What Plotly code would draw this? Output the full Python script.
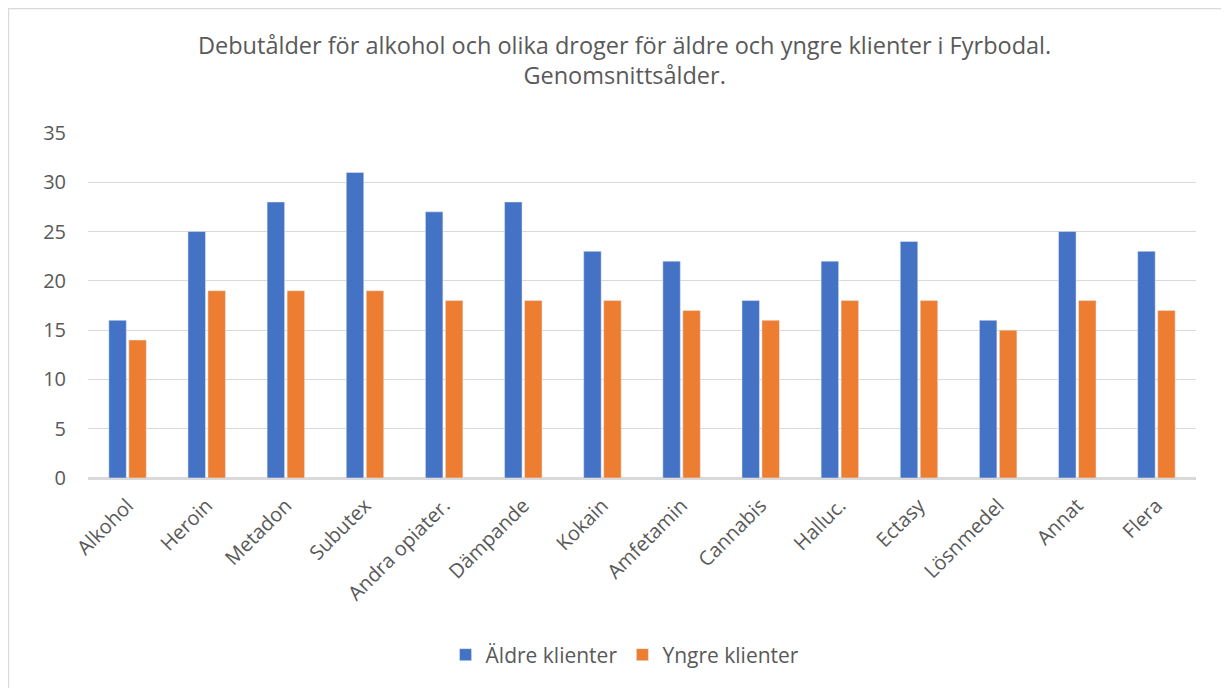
import plotly.graph_objects as go

kategorier = ["Alkohol", "Heroin", "Metadon", "Subutex", "Andra opiater.", "Dämpande",
              "Kokain", "Amfetamin", "Cannabis", "Halluc.", "Ectasy", "Lösnmedel", "Annat", "Flera"]
aldre = [16, 25, 28, 31, 27, 28, 23, 22, 18, 22, 24, 16, 25, 23]
yngre = [14, 19, 19, 19, 18, 18, 18, 17, 16, 18, 18, 15, 18, 17]

font = "Open Sans, Liberation Sans, sans-serif"
grey = "#595959"

fig = go.Figure()
fig.add_trace(go.Bar(x=kategorier, y=aldre, name="Äldre klienter", marker_color="#4472C4"))
fig.add_trace(go.Bar(x=kategorier, y=yngre, name="Yngre klienter", marker_color="#ED7D31"))

# sidan har 8px marginal i body, så figuren görs lite mindre
fig.update_layout(
    width=1221, height=680,
    margin=dict(l=80, r=33, t=125, b=210),
    paper_bgcolor="white", plot_bgcolor="white",
    font=dict(family=font, color=grey, size=20),
    barmode="group", bargap=0.495, bargroupgap=0.125,
    title=dict(text="Debutålder för alkohol och olika droger för äldre och yngre klienter i Fyrbodal.<br>Genomsnittsålder.",
               x=0.505, xanchor="center", y=0.933, yanchor="middle",
               font=dict(size=23.5, color=grey)),
    legend=dict(orientation="h", x=0.4847, xanchor="center", y=-0.513, yanchor="middle",
                font=dict(size=21, color=grey)),
    showlegend=True,
)
fig.update_yaxes(range=[0, 35], dtick=5, showgrid=True, gridcolor="#D9D9D9", gridwidth=1,
                 zeroline=True, zerolinecolor="#D9D9D9", ticks="", tickfont=dict(size=20),
                 ticklabelstandoff=21)
fig.update_xaxes(tickangle=-45, showline=True, linecolor="#D9D9D9", linewidth=2, ticks="",
                 tickfont=dict(size=20), ticklabelstandoff=6)

# ram runt diagrammet
fig.add_shape(type="rect", xref="paper", yref="paper",
              x0=-0.0718, x1=1.04, y0=-0.64, y1=1.361,
              line=dict(color="#D9D9D9", width=1.5))

fig.write_html("out.html")
